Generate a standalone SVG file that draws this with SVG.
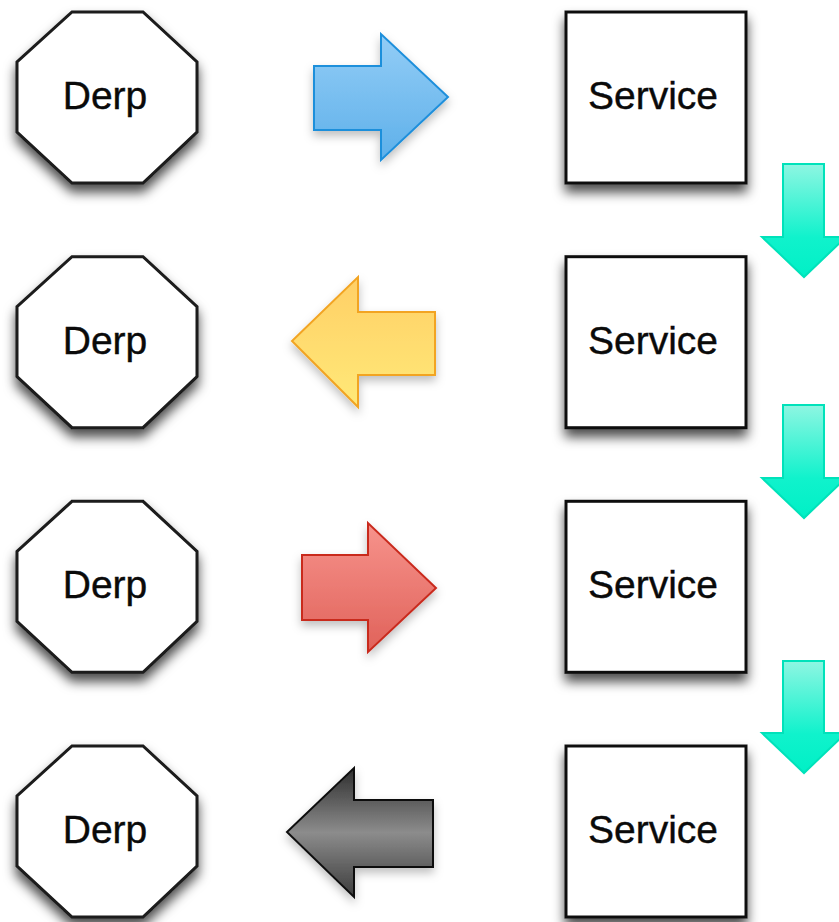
<svg xmlns="http://www.w3.org/2000/svg" width="839" height="922" viewBox="0 0 839 922">
<style>
.oct{fill:#fff;stroke:#1a1a1a;stroke-width:3;stroke-linejoin:miter}
.box{fill:#fff;stroke:#111;stroke-width:3}
.lbl{font-family:"Liberation Sans",Arial,sans-serif;font-size:39px;fill:#0a0a0a;stroke:#0a0a0a;stroke-width:0.4;text-anchor:middle}
</style>
<defs>
<filter id="sh" x="-30%" y="-30%" width="160%" height="170%">
<feDropShadow dx="0" dy="8" stdDeviation="6" flood-color="#000" flood-opacity="0.7"/>
</filter>
<filter id="ash" x="-30%" y="-30%" width="160%" height="170%">
<feDropShadow dx="0" dy="5" stdDeviation="5" flood-color="#000" flood-opacity="0.25"/>
</filter>
<linearGradient id="gBlue" x1="0" y1="0" x2="0" y2="1"><stop offset="0" stop-color="#93cdf6"/><stop offset="1" stop-color="#5eb0ea"/></linearGradient>
<linearGradient id="gYel" x1="0" y1="0" x2="0" y2="1"><stop offset="0" stop-color="#ffcf66"/><stop offset="1" stop-color="#ffe978"/></linearGradient>
<linearGradient id="gRed" x1="0" y1="0" x2="0" y2="1"><stop offset="0" stop-color="#f7938c"/><stop offset="1" stop-color="#e0625a"/></linearGradient>
<linearGradient id="gGrey" x1="0" y1="0" x2="0" y2="1"><stop offset="0" stop-color="#2e2e2e"/><stop offset="0.5" stop-color="#8c8c8c"/><stop offset="1" stop-color="#3c3c3c"/></linearGradient>
<linearGradient id="gTeal" x1="0" y1="0" x2="0" y2="1"><stop offset="0" stop-color="#8ef6e2"/><stop offset="0.65" stop-color="#10f2cc"/><stop offset="1" stop-color="#00f0c6"/></linearGradient>
</defs>
<rect width="839" height="922" fill="#fff"/>

<g id="derp1" transform="translate(0,0)"><polygon class="oct" filter="url(#sh)" points="72,12 143,12 197,62 197,132 143,183 72,183 17,132 17,62"/><text class="lbl" x="105" y="109">Derp</text></g>
<g id="derp2" transform="translate(0,244.7)"><polygon class="oct" filter="url(#sh)" points="72,12 143,12 197,62 197,132 143,183 72,183 17,132 17,62"/><text class="lbl" x="105" y="109">Derp</text></g>
<g id="derp3" transform="translate(0,489.3)"><polygon class="oct" filter="url(#sh)" points="72,12 143,12 197,62 197,132 143,183 72,183 17,132 17,62"/><text class="lbl" x="105" y="109">Derp</text></g>
<g id="derp4" transform="translate(0,734)"><polygon class="oct" filter="url(#sh)" points="72,12 143,12 197,62 197,132 143,183 72,183 17,132 17,62"/><text class="lbl" x="105" y="109">Derp</text></g>

<g id="service1" transform="translate(0,0)"><rect class="box" filter="url(#sh)" x="566" y="12" width="180" height="171"/><text class="lbl" x="653" y="109">Service</text></g>
<g id="service2" transform="translate(0,244.7)"><rect class="box" filter="url(#sh)" x="566" y="12" width="180" height="171"/><text class="lbl" x="653" y="109">Service</text></g>
<g id="service3" transform="translate(0,489.3)"><rect class="box" filter="url(#sh)" x="566" y="12" width="180" height="171"/><text class="lbl" x="653" y="109">Service</text></g>
<g id="service4" transform="translate(0,734)"><rect class="box" filter="url(#sh)" x="566" y="12" width="180" height="171"/><text class="lbl" x="653" y="109">Service</text></g>

<g id="connectors" stroke-width="2" stroke-linejoin="miter">
<polygon filter="url(#ash)" fill="url(#gBlue)" stroke="#1f8fdb" points="314,66 381,66 381,34 448,97 381,160 381,130 314,130"/>
<polygon filter="url(#ash)" fill="url(#gYel)" stroke="#f2a424" points="435,312 358,312 358,277 292,341 358,407 358,375 435,375"/>
<polygon filter="url(#ash)" fill="url(#gRed)" stroke="#c92a1e" points="302,555 368,555 368,523 436,588 368,652 368,620 302,620"/>
<polygon filter="url(#ash)" fill="url(#gGrey)" stroke="#111" points="433,800 354,800 354,768 287,832 354,897 354,867 433,867"/>
<polygon fill="url(#gTeal)" stroke="#00e2ba" points="783,164 824,164 824,237 846,237 804,277 762,237 783,237"/>
<polygon fill="url(#gTeal)" stroke="#00e2ba" points="783,405 824,405 824,478 846,478 804,518 762,478 783,478"/>
<polygon fill="url(#gTeal)" stroke="#00e2ba" points="783,661 824,661 824,733 846,733 804,773 762,733 783,733"/>
</g>
</svg>
